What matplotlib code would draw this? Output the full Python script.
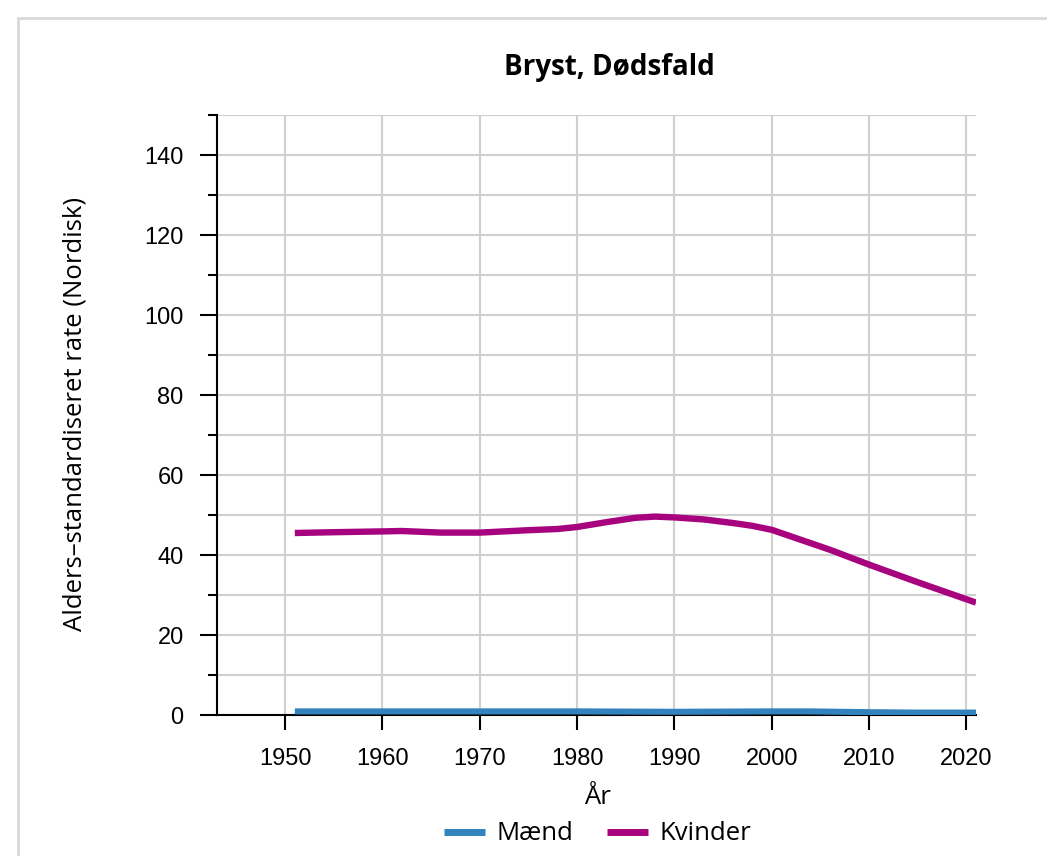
import numpy as np
import matplotlib.pyplot as plt
from matplotlib.patches import Rectangle

# data
years_k = [1951, 1955, 1960, 1962, 1966, 1970, 1975, 1978, 1980, 1983, 1986, 1988, 1990, 1993, 1996, 1998, 2000, 2003, 2006, 2010, 2015, 2021]
kvinder = [45.5, 45.7, 45.9, 46.0, 45.6, 45.6, 46.2, 46.5, 47.0, 48.2, 49.3, 49.6, 49.4, 48.9, 48.0, 47.3, 46.3, 43.8, 41.3, 37.6, 33.2, 28.1]
years_m = [1951, 1960, 1970, 1980, 1990, 2000, 2004, 2010, 2015, 2021]
maend = [0.9, 0.9, 0.9, 0.9, 0.8, 0.9, 0.9, 0.7, 0.6, 0.6]
x_ticks = [1950, 1960, 1970, 1980, 1990, 2000, 2010, 2020]

W, H = 1047, 856
fig = plt.figure(figsize=(W/100, H/100), dpi=100)
ax = fig.add_axes([217/W, 1 - 715/H, (976-217)/W, (715-115)/H])

# grey border around the chart area
fig.patches.append(Rectangle((18/W, -0.1), 1.2, 1 - 18/H + 0.1, transform=fig.transFigure,
                             fill=False, edgecolor='#d8d8d8', linewidth=2))

ax.plot(years_m, maend, color='#3182bd', linewidth=4.4, solid_capstyle='butt', zorder=3)
ax.plot(years_k, kvinder, color='#a8037f', linewidth=4.6, solid_capstyle='butt', zorder=3)

ax.set_xlim(1943, 2021)
ax.set_ylim(0, 150)
ax.set_xticks(x_ticks)
ax.set_yticks(np.arange(0, 141, 20))
ax.set_yticks(np.arange(10, 151, 20), minor=True)
ax.grid(True, which='both', color='#d0d0d0', linewidth=1.5)
ax.set_axisbelow(True)

for s in ['top', 'right']:
    ax.spines[s].set_visible(False)
ax.spines['left'].set_linewidth(1.5)
ax.spines['bottom'].set_linewidth(1.5)
ax.tick_params(axis='y', which='major', length=12, width=1.5, labelsize=17, pad=12)
ax.tick_params(axis='y', which='minor', length=6.5, width=1.5)
ax.tick_params(axis='x', which='major', length=10.5, width=1.5, labelsize=17, pad=13)
for lab in ax.get_xticklabels() + ax.get_yticklabels():
    lab.set_family('Liberation Sans')

fig.text(609/W, 1 - 68/H, 'Bryst, Dødsfald', ha='center', va='center',
         fontsize=20, fontweight='bold', family='Open Sans')
fig.text(75/W, 1 - 414/H, 'Alders\u2013standardiseret rate (Nordisk)', ha='center', va='center',
         rotation=90, family='Open Sans', fontsize=18.5)
fig.text(597/W, 1 - 797/H, 'År', ha='center', va='center', family='Open Sans', fontsize=18.5)

leg = fig.legend(['Mænd', 'Kvinder'], loc='center', bbox_to_anchor=(598/W, 1 - 834/H),
                 ncol=2, frameon=False, prop={'family': 'Open Sans', 'size': 18.5},
                 handlelength=1.6, handletextpad=0.45, columnspacing=1.3)
for h in leg.get_lines():
    h.set_linewidth(5)

fig.savefig('out.png', dpi=100)
